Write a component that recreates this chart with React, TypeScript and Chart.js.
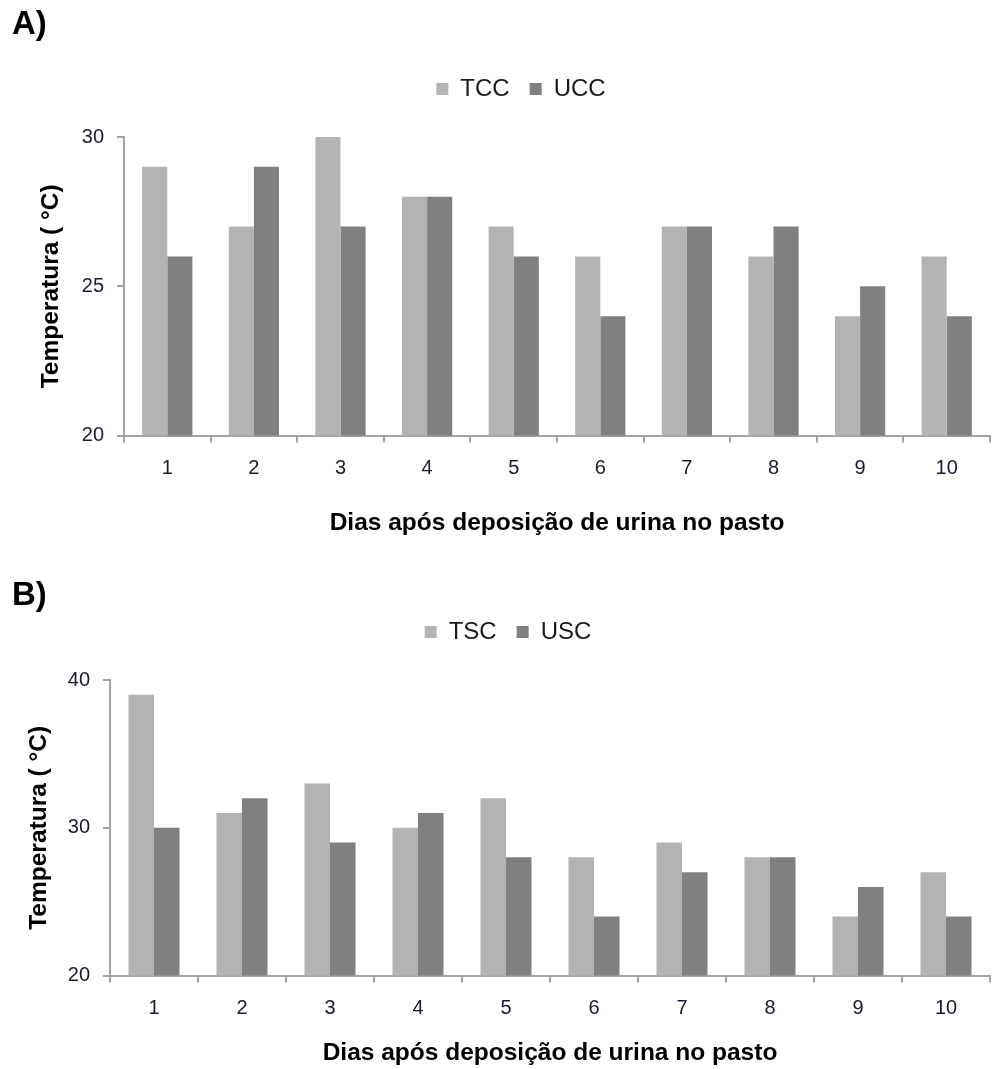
import React, { useEffect, useRef } from "react";
import { Chart, registerables } from "chart.js";

Chart.register(...registerables);

const days = ["1", "2", "3", "4", "5", "6", "7", "8", "9", "10"];
const tccValues = [29, 27, 30, 28, 27, 26, 27, 26, 24, 26];
const uccValues = [26, 29, 27, 28, 26, 24, 27, 27, 25, 24];
const tscValues = [39, 31, 33, 30, 32, 28, 29, 28, 24, 27];
const uscValues = [30, 32, 29, 31, 28, 24, 27, 28, 26, 24];
const yTicksA = [20, 25, 30];
const yTicksB = [20, 30, 40];

const LIGHT = "#b3b3b3";
const DARK = "#808080";
const AXIS = "#a3a3a3";
const FONT = "'Liberation Sans', Arial, sans-serif";
const xTitle = "Dias após deposição de urina no pasto";
const yTitle = "Temperatura ( °C)";

type Cfg = {
  labels: string[];
  names: [string, string];
  a: number[];
  b: number[];
  ticks: number[];
  yWidth: number;
  yTitlePad: number;
  padTop: number;
  padBottom: number;
  xTitlePad: number;
  legendDx: number;
};

function makeChart(canvas: HTMLCanvasElement, c: Cfg) {
  const legendSpacer = {
    id: "legendSpacer",
    beforeInit(chart: any) {
      const legend = chart.legend;
      const fit = legend.fit;
      legend.fit = function () {
        fit.call(this);
        this.height += 26;
      };
      const draw = legend.draw;
      legend.draw = function (...args: any[]) {
        this.ctx.save();
        this.ctx.translate(c.legendDx, 0);
        draw.apply(this, args);
        this.ctx.restore();
      };
    },
  };
  return new Chart(canvas, {
    type: "bar",
    data: {
      labels: c.labels,
      datasets: [
        { label: c.names[0], data: c.a, backgroundColor: LIGHT, borderWidth: 0 },
        { label: c.names[1], data: c.b, backgroundColor: DARK, borderWidth: 0 },
      ],
    },
    plugins: [legendSpacer],
    options: {
      animation: false,
      responsive: false,
      maintainAspectRatio: false,
      layout: { padding: { top: c.padTop, left: 0, right: 3, bottom: c.padBottom } },
      datasets: { bar: { categoryPercentage: 0.58, barPercentage: 1.0 } },
      plugins: {
        tooltip: { enabled: false },
        legend: {
          position: "top",
          labels: {
            boxWidth: 12,
            boxHeight: 12,
            padding: 20,
            color: "#1a1a1a",
            font: { family: FONT, size: 24 },
          },
        },
      },
      scales: {
        x: {
          grid: {
            display: true,
            drawOnChartArea: false,
            drawTicks: true,
            tickLength: 7,
            color: AXIS,
            lineWidth: 2,
            offset: true,
          },
          border: { display: true, color: AXIS, width: 2 },
          ticks: { color: "#1a1a33", padding: 14, font: { family: FONT, size: 20 } },
          title: {
            display: true,
            text: xTitle,
            color: "#000",
            font: { family: FONT, size: 24.5, weight: "bold" },
            padding: { top: c.xTitlePad, bottom: 0 },
          },
        },
        y: {
          min: c.ticks[0],
          max: c.ticks[c.ticks.length - 1],
          afterFit(scale: any) {
            scale.width = c.yWidth;
          },
          afterBuildTicks(scale: any) {
            scale.ticks = c.ticks.map((v) => ({ value: v }));
          },
          grid: {
            display: true,
            drawOnChartArea: false,
            drawTicks: true,
            tickLength: 7,
            color: AXIS,
            lineWidth: 2,
          },
          border: { display: true, color: AXIS, width: 2 },
          ticks: { color: "#1a1a33", padding: 13, font: { family: FONT, size: 20 } },
          title: {
            display: true,
            text: yTitle,
            color: "#000",
            font: { family: FONT, size: 24.5, weight: "bold" },
            padding: { top: c.yTitlePad, bottom: 0 },
          },
        },
      },
    },
  } as any);
}

function Panel(props: { top: number; height: number; cfg: Cfg }) {
  const ref = useRef<HTMLCanvasElement | null>(null);
  useEffect(() => {
    if (!ref.current) return;
    const ch = makeChart(ref.current, props.cfg);
    return () => ch.destroy();
  }, []);
  return (
    <canvas
      ref={ref}
      width={993}
      height={props.height}
      style={{ position: "absolute", left: 0, top: props.top, width: 993, height: props.height }}
    />
  );
}

const panelLabel: React.CSSProperties = {
  position: "absolute",
  left: 12,
  fontFamily: FONT,
  fontWeight: "bold",
  fontSize: 33,
  lineHeight: "33px",
  color: "#000",
};

export default function App() {
  const cfgA: Cfg = {
    labels: days,
    names: ["TCC", "UCC"],
    a: tccValues,
    b: uccValues,
    ticks: yTicksA,
    yWidth: 124,
    yTitlePad: 37,
    padTop: 57,
    padBottom: 7,
    xTitlePad: 14,
    legendDx: 26,
  };
  const cfgB: Cfg = {
    labels: days,
    names: ["TSC", "USC"],
    a: tscValues,
    b: uscValues,
    ticks: yTicksB,
    yWidth: 110,
    yTitlePad: 25,
    padTop: 55,
    padBottom: 1,
    xTitlePad: 4,
    legendDx: 13,
  };
  return (
    <div style={{ position: "absolute", left: 0, top: 0, width: 993, height: 1069, background: "#fff", overflow: "hidden" }}>
      <Panel top={0} height={545} cfg={cfgA} />
      <Panel top={545} height={524} cfg={cfgB} />
      <div style={{ ...panelLabel, top: 6 }}>A)</div>
      <div style={{ ...panelLabel, top: 577 }}>B)</div>
    </div>
  );
}
